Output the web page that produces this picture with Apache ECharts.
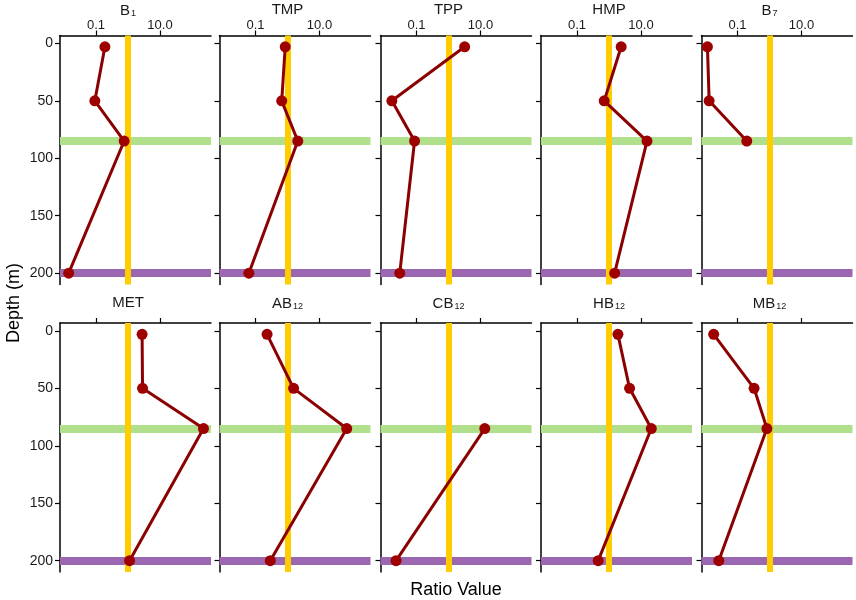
<!DOCTYPE html>
<html>
<head>
<meta charset="utf-8">
<script src="https://cdn.jsdelivr.net/npm/echarts@6/dist/echarts.min.js"></script>
<style>
html,body{margin:0;padding:0;background:#fff}
#chart{width:856px;height:600px}
</style>
</head>
<body>
<div id="chart"></div>
<script>
// sampling depths (m)
var depths=[3,50,85,200];

// panel titles ({s|..} = subscript)
var panelNames=['B{s|1}','TMP','TPP','HMP','B{s|7}','MET','AB{s|12}','CB{s|12}','HB{s|12}','MB{s|12}'];

// ratio values per depth, null = not measured
var B1  =[0.19, 0.092,0.76, 0.014];
var TMP =[0.85, 0.66, 2.1,  0.062];
var TPP =[3.2,  0.017,0.087,0.03];
var HMP =[2.4,  0.71, 15.4, 1.5];
var B7  =[0.0115,0.013,0.195,null];
var MET =[2.76, 2.85, 229,  1.12];
var AB12=[0.23, 1.55, 71,   0.29];
var CB12=[null, null, 13.6, 0.023];
var HB12=[1.9,  4.4,  21,   0.46];
var MB12=[0.018,0.33, 0.83, 0.026];
var ratioSeries=[B1,TMP,TPP,HMP,B7,MET,AB12,CB12,HB12,MB12];

var xTickValues=[0.1,10];
var xTickLabels=['0.1','10.0'];
var yTickValues=[0,50,100,150,200];
var refRatio=1;
var dcmDepth=85;
var deepDepth=200;

var FONT='"Liberation Sans", Arial, sans-serif';
var panelLeft=[60,219.5,380.5,541,701.5];
var rowTop=[35.5,323];
var panelW=151, panelH=249;

var chart=echarts.init(document.getElementById('chart'));

var grids=[],xAxes=[],yAxes=[],series=[];
ratioSeries.forEach(function(vals,i){
    var row=Math.floor(i/5), col=i%5;
    grids.push({left:panelLeft[col],top:rowTop[row],width:panelW,height:panelH,outerBoundsMode:'none'});
    xAxes.push({
        gridIndex:i,type:'log',logBase:10,min:0.0075,max:393,position:'top',
        axisLine:{show:true,onZero:false,lineStyle:{color:'#000',width:1.5}},
        axisTick:{show:true,inside:false,length:5,customValues:xTickValues,lineStyle:{color:'#000',width:1.2}},
        axisLabel:{show:row===0,customValues:xTickValues,margin:4,fontSize:13,color:'#1a1a1a',fontFamily:FONT,
            formatter:function(v){
                for(var k=0;k<xTickValues.length;k++){if(Math.abs(Math.log10(v)-Math.log10(xTickValues[k]))<1e-6)return xTickLabels[k];}
                return '';
            }},
        splitLine:{show:false},minorTick:{show:false}
    });
    yAxes.push({
        gridIndex:i,type:'value',inverse:true,min:-6.85,max:209.85,
        axisLine:{show:true,onZero:false,lineStyle:{color:'#000',width:1.5}},
        axisTick:{show:true,length:5,customValues:yTickValues,lineStyle:{color:'#000',width:1.2}},
        axisLabel:{show:col===0,customValues:yTickValues,margin:7,fontSize:14,color:'#1a1a1a',fontFamily:FONT},
        splitLine:{show:false}
    });
    var pts=[];
    depths.forEach(function(d,k){ if(vals[k]!=null) pts.push([vals[k],d]); });
    series.push({
        type:'line',xAxisIndex:i,yAxisIndex:i,data:pts,z:3,
        symbol:'circle',symbolSize:11,
        lineStyle:{color:'#8B0000',width:3},
        itemStyle:{color:'#9E0000'},
        emphasis:{disabled:true},
        animation:false,
        markLine:{
            silent:true,z:1,symbol:['none','none'],label:{show:false},animation:false,
            emphasis:{disabled:true},
            data:[
                {yAxis:dcmDepth,lineStyle:{color:'#B0E08C',width:8,type:'solid',opacity:1}},
                {yAxis:deepDepth,lineStyle:{color:'#9B67B0',width:8,type:'solid',opacity:1}},
                {xAxis:refRatio,lineStyle:{color:'#FFCC00',width:6,type:'solid',opacity:1}}
            ]
        }
    });
});

chart.setOption({
    backgroundColor:'#fff',
    animation:false,
    grid:grids,xAxis:xAxes,yAxis:yAxes,series:series
});

// titles centred over the reference line, axis names
var graphics=[];
panelNames.forEach(function(name,i){
    var row=Math.floor(i/5);
    var cx=chart.convertToPixel({xAxisIndex:i},refRatio);
    var hasSub=name.indexOf('{s|')>=0;
    graphics.push({
        type:'text',x:cx,y:(row===0?9.5:303)+(hasSub?1:0),z:10,
        style:{text:name,fill:'#1a1a1a',fontSize:15,fontFamily:FONT,align:'center',verticalAlign:'middle',
            textAlign:'center',textVerticalAlign:'middle',
            rich:{s:{fontSize:9,fontFamily:FONT,fill:'#1a1a1a',verticalAlign:'bottom',lineHeight:9,padding:[8,0,0,1]}}}
    });
});
graphics.push({
    type:'text',x:14,y:303,rotation:Math.PI/2,
    style:{text:'Depth (m)',fill:'#000',fontSize:18,fontFamily:FONT,align:'center',verticalAlign:'middle',textAlign:'center',textVerticalAlign:'middle'}
});
graphics.push({
    type:'text',x:456,y:590,
    style:{text:'Ratio Value',fill:'#000',fontSize:18,fontFamily:FONT,align:'center',verticalAlign:'middle',textAlign:'center',textVerticalAlign:'middle'}
});
chart.setOption({graphic:graphics});
</script>
</body>
</html>
